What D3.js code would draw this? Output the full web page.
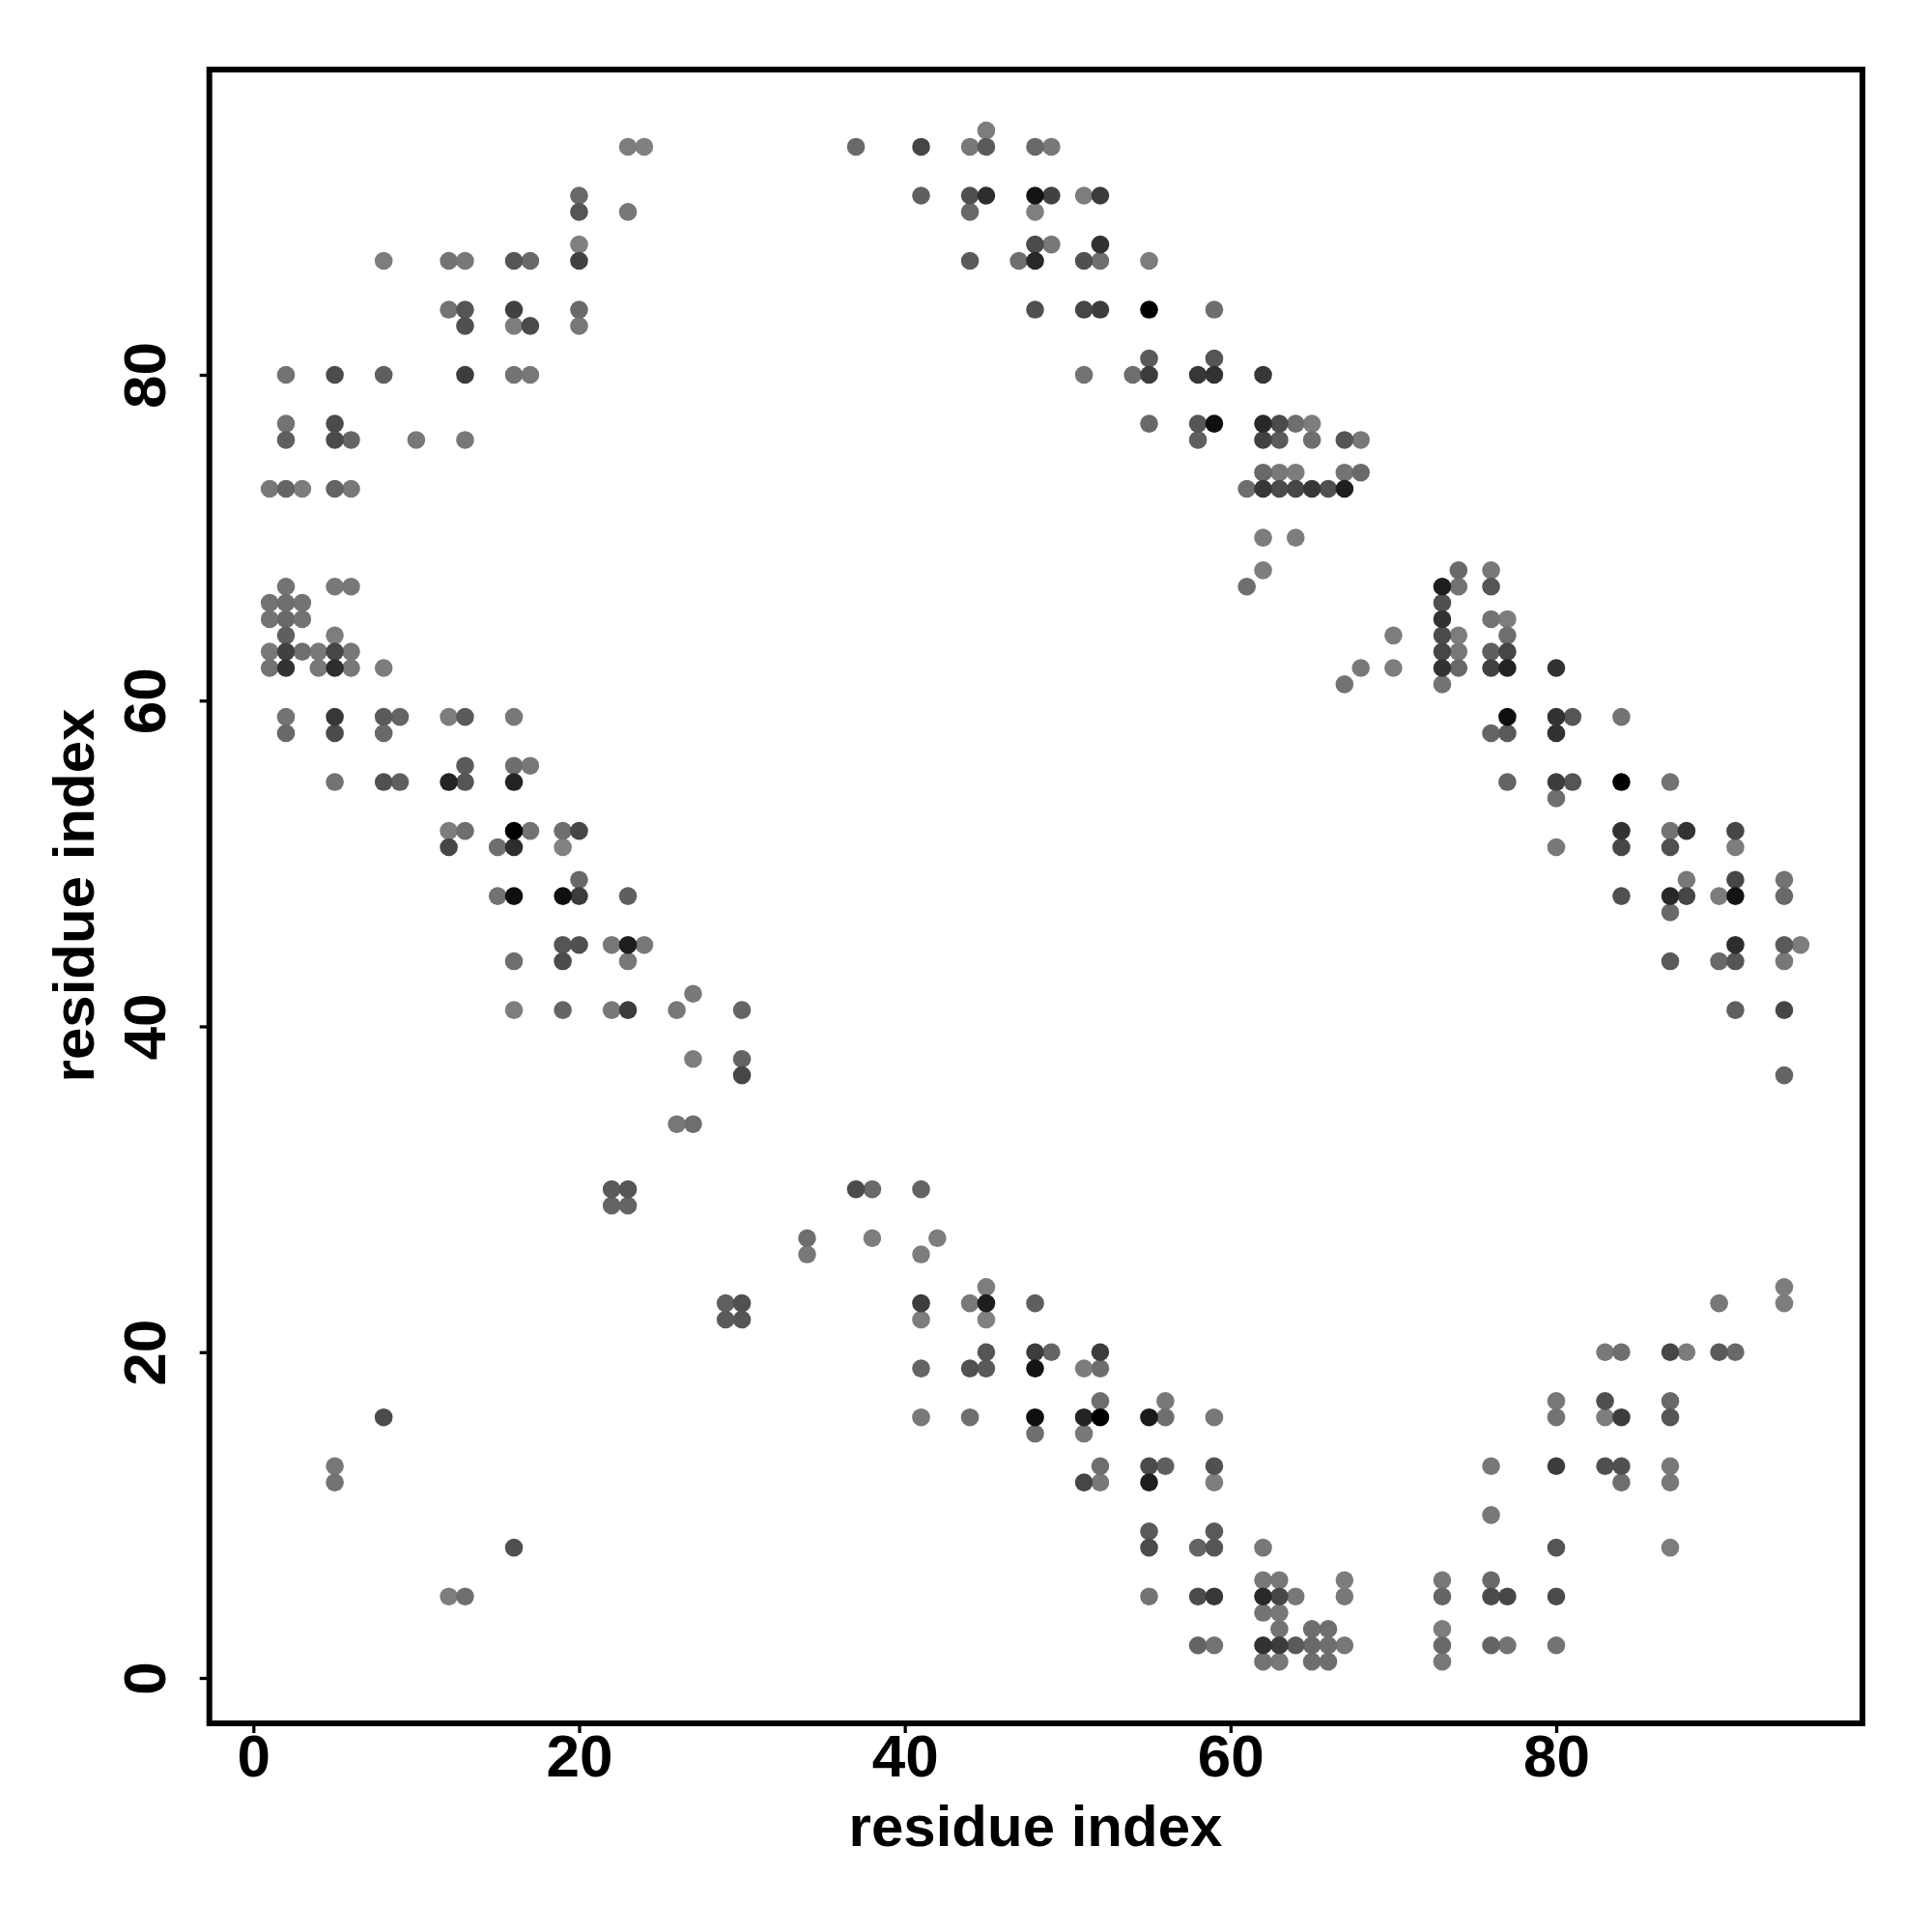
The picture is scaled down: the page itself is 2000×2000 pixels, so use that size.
<!DOCTYPE html>
<html><head><meta charset="utf-8">
<script src="https://cdn.jsdelivr.net/npm/d3@7/dist/d3.min.js"></script>
<style>html,body{margin:0;padding:0;background:#fff}svg{display:block}</style>
</head><body><div id="chart"></div>
<script>
// residue i, one line per row of residue j
const residueI = [
45,
23,24,37,41,44,45,48,49,
20,41,44,45,48,49,51,52,
20,23,44,48,
20,48,49,52,
8,12,13,16,17,20,44,47,48,51,52,55,
12,13,16,20,48,51,52,55,59,
13,16,17,20,
55,59,
2,5,8,13,16,17,51,54,55,58,59,62,
2,5,55,58,59,62,63,64,65,
2,5,6,10,13,58,62,63,65,67,68,
62,63,64,67,68,
1,2,3,5,6,61,62,63,64,65,66,67,
62,64,
62,74,76,
2,5,6,61,73,74,76,
1,2,3,73,
1,2,3,73,76,77,
2,5,70,73,74,77,
1,2,3,4,5,6,73,74,76,77,
1,2,4,5,6,8,68,70,73,74,76,77,80,
67,73,
2,5,8,9,12,13,16,77,80,81,84,
2,5,8,76,77,80,
13,16,17,
5,8,9,12,13,16,77,80,81,84,87,
80,
12,13,16,17,19,20,84,87,88,91,
12,15,16,19,80,84,87,91,
20,88,91,94,
15,16,19,20,23,84,87,88,90,91,94,
87,
19,20,22,23,24,91,94,95,
16,19,23,87,90,91,94,
27,
16,19,22,23,26,30,91,94,
27,30,
30,94,
26,27,
22,23,37,38,41,
22,23,
34,38,42,
34,41,
45,94,
29,30,41,44,45,48,90,94,
29,30,41,45,
45,48,49,52,83,84,87,88,90,91,
41,44,45,48,51,52,
52,56,80,83,87,
8,41,44,48,51,52,55,56,59,80,83,84,87,
48,51,
5,52,55,56,59,76,80,83,84,87,
5,51,52,55,59,84,87,
76,
55,59,
16,55,58,59,62,80,87,
62,63,67,73,76,
12,13,55,58,59,62,63,64,67,73,76,77,80,
62,63,
63,65,66,73,
58,59,62,63,64,65,66,67,73,76,77,80,
62,63,65,66,73
];
// residue j: the row value and how many contacts sit on that row
const rowJ =  [95,94,91,90,88,87,84,83,81,80,77,76,74,73,70,68,67,66,65,64,63,62,61,59,58,56,55,54,52,51,49,48,47,45,44,42,41,38,37,34,30,29,27,26,24,23,22,20,19,17,16,15,13,12,10,9,8,6,5,4,3,2,1];
const rowCount = [1,8,8,4,4,12,9,4,2,12,9,11,5,12,2,3,7,4,6,6,10,13,2,11,6,3,11,1,10,8,4,11,1,8,7,1,8,2,2,2,5,2,3,2,2,8,4,10,6,5,13,2,10,7,1,2,7,5,13,2,4,12,5];
// contact strength, same order as residueI
const strength = [
5,
5,2,25,60,10,40,25,10,
25,35,50,85,110,65,5,70,
45,10,25,2,
2,55,10,80,
5,15,10,45,25,65,40,20,90,50,20,5,
15,45,65,25,50,60,70,130,20,
50,5,55,10,
40,45,
15,55,35,70,15,10,15,20,70,75,80,75,
15,55,25,45,115,90,55,20,5,
35,55,30,10,10,35,65,40,20,45,10,
25,10,5,15,25,
10,30,5,30,10,20,75,55,60,75,50,100,
5,5,
5,25,10,
15,10,10,20,100,15,45,
15,20,15,50,
15,25,15,80,15,5,
35,5,5,55,5,20,
10,65,20,10,60,10,60,10,35,60,
15,80,10,85,10,5,10,5,80,25,65,95,80,
15,15,
15,75,40,30,5,40,10,115,80,45,15,
25,55,25,30,40,80,
40,20,10,
15,50,35,95,45,95,30,70,45,130,15,
20,
5,20,130,15,20,60,80,15,80,60,
60,20,85,0,10,60,50,5,
25,10,60,15,
15,115,115,70,35,50,90,60,5,110,25,
25,
45,50,10,100,10,85,40,5,
20,55,10,40,25,45,10,
10,
5,30,10,70,10,30,35,60,
5,30,
60,30,
10,20,
40,45,55,25,30,
30,30,
20,5,5,
10,5,
5,5,
35,50,70,10,100,35,10,5,
40,45,5,2,
45,70,30,70,10,20,60,5,40,25,
30,50,40,110,5,20,
20,10,10,50,25,
55,10,20,115,95,130,105,20,10,15,5,70,45,
20,10,
10,20,55,35,50,10,70,50,50,10,
15,60,10,100,5,20,10,
10,
40,40,
50,55,30,45,10,45,5,
10,10,5,10,25,
5,20,15,55,75,90,60,10,10,30,55,60,55,
15,10,
15,20,20,5,
30,15,80,70,40,25,20,10,25,30,15,15,
15,10,20,20,10
];
const xTicks = [0,20,40,60,80];
const yTicks = [0,20,40,60,80];
const axisTitle = "residue index";

const residueJ = rowJ.flatMap((j, k) => d3.range(rowCount[k]).map(() => j));
const contacts = residueI.map((x, k) => ({x, y: residueJ[k], s: strength[k]}))
  .sort((a, b) => a.s - b.s);

const W = 2000, H = 2000;
const left = 216.7, right = 1928, top_ = 72, bottom = 1784;
const font = "'Liberation Sans', Arial, Helvetica, sans-serif";

const x = d3.scaleLinear().domain([0, 80]).range([262.3, 1611]);
const y = d3.scaleLinear().domain([0, 80]).range([1737, 388]);
const shade = d3.scaleLinear().domain([0, 130]).range(["rgb(130,130,130)", "rgb(0,0,0)"]);

const svg = d3.select("#chart").append("svg").attr("width", W).attr("height", H)
  .style("background", "#fff");

svg.append("g").selectAll("circle").data(contacts).join("circle")
  .attr("cx", d => x(d.x)).attr("cy", d => y(d.y)).attr("r", 9.3)
  .attr("fill", d => shade(d.s));

const gx = svg.append("g").attr("transform", `translate(0,${bottom})`)
  .call(d3.axisBottom(x).tickValues(xTicks).tickFormat(d3.format("d")).tickSize(10).tickPadding(1));
const gy = svg.append("g").attr("transform", `translate(${left},0)`)
  .call(d3.axisLeft(y).tickValues(yTicks).tickFormat(d3.format("d")).tickSize(10));
gx.select(".domain").remove(); gy.select(".domain").remove();
svg.selectAll(".tick line").attr("stroke", "#000").attr("stroke-width", 3.3);
svg.selectAll(".tick text").attr("fill", "#000")
  .style("font-family", font).style("font-weight", "bold").style("font-size", "62px");
gy.selectAll(".tick text").attr("x", 0).attr("y", -45.7).attr("dy", 0)
  .attr("text-anchor", "middle").attr("transform", "rotate(-90)");

svg.append("rect").attr("x", left).attr("y", top_)
  .attr("width", right - left).attr("height", bottom - top_)
  .attr("fill", "none").attr("stroke", "#000").attr("stroke-width", 6);

svg.append("text").attr("x", 1072).attr("y", 1911).attr("text-anchor", "middle")
  .style("font-family", font).style("font-weight", "bold").style("font-size", "60px").text(axisTitle);
svg.append("text").attr("transform", "translate(97,927) rotate(-90)").attr("text-anchor", "middle")
  .style("font-family", font).style("font-weight", "bold").style("font-size", "60px").text(axisTitle);

if (residueI.length !== strength.length || residueI.length !== residueJ.length)
  console.error("length mismatch", residueI.length, strength.length, residueJ.length);
</script></body></html>
